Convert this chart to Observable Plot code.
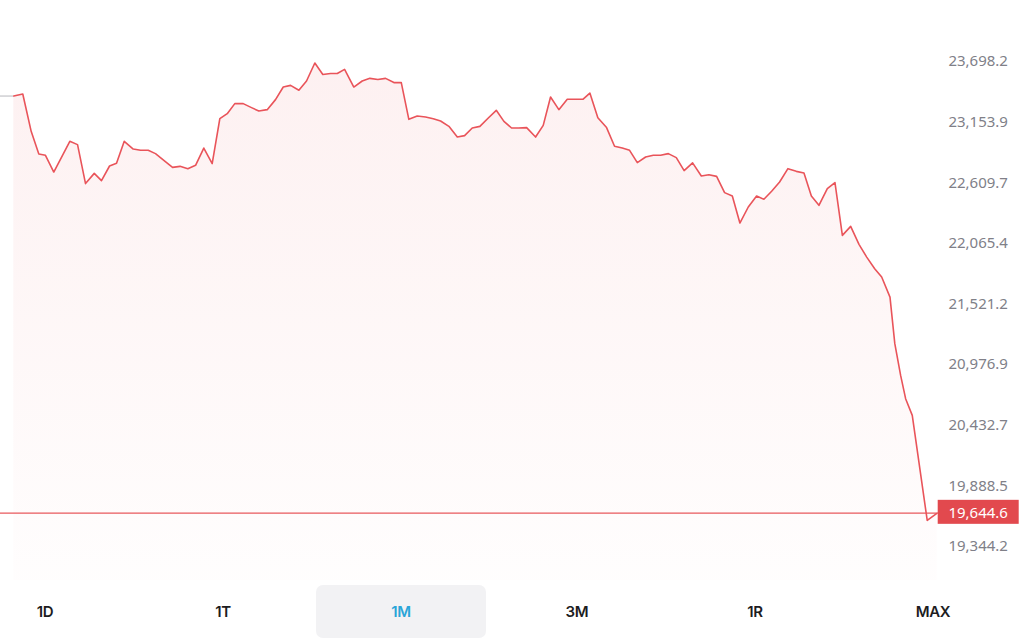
<!DOCTYPE html>
<html>
<head>
<meta charset="utf-8">
<script src="https://cdn.jsdelivr.net/npm/d3@7"></script>
<script src="https://cdn.jsdelivr.net/npm/@observablehq/plot@0.6"></script>
<style>
  html, body { margin: 0; padding: 0; background: #fff; }
  #wrap { position: relative; width: 1024px; height: 643px; overflow: hidden; }
  #chart svg { display: block; }
  .btn { position: absolute; top: 585px; width: 170px; height: 53px; border-radius: 7px;
         display: flex; align-items: center; justify-content: center;
         font-family: Inter, "Noto Sans", sans-serif; font-weight: 600; font-size: 15px;
         color: #1d1d1f; letter-spacing: -0.3px; }
  .btn.active { background: #f2f2f4; color: #2aa5d8; }
</style>
</head>
<body>
<div id="wrap">
  <div id="chart"></div>
  <div id="buttons"></div>
</div>
<script>
// time step (sampling index) and price
const t = [0, 1.08, 2.09, 3.01, 3.81, 4.81, 6.74, 7.67, 8.63, 9.68, 10.55, 11.52, 12.36, 13.29, 14.37, 15.25, 16.17, 17.05, 18.05, 19.1, 20.0, 20.94, 21.87, 22.86, 23.87, 24.79, 25.68, 26.59, 27.6, 28.6, 29.48, 30.49, 31.49, 32.42, 33.3, 34.3, 35.22, 36.22, 37.18, 38.11, 38.92, 39.8, 40.91, 41.92, 42.84, 43.8, 44.73, 45.73, 46.62, 47.53, 48.54, 49.54, 50.47, 51.35, 52.35, 53.36, 54.24, 55.16, 56.08, 57.09, 58.05, 58.97, 59.89, 60.73, 61.7, 62.78, 63.7, 64.58, 65.58, 66.59, 67.59, 68.47, 69.31, 70.27, 71.32, 72.28, 73.21, 74.09, 75.02, 76.02, 76.94, 77.82, 78.75, 79.71, 80.65, 81.67, 82.72, 83.63, 84.56, 85.52, 86.45, 87.36, 88.37, 89.37, 90.25, 91.18, 92.14, 93.14, 94.15, 95.07, 95.96, 96.87, 97.88, 98.8, 99.69, 100.69, 101.69, 102.62, 103.58, 104.42, 105.42, 106.0, 106.7, 107.3, 108.1, 109.9, 111.1];
const price = [23388, 23406, 23071, 22867, 22856, 22706, 22982, 22952, 22602, 22694, 22629, 22760, 22784, 22982, 22912, 22901, 22901, 22871, 22811, 22748, 22757, 22736, 22766, 22921, 22781, 23185, 23230, 23320, 23320, 23284, 23254, 23266, 23356, 23469, 23484, 23440, 23523, 23685, 23581, 23590, 23590, 23628, 23469, 23523, 23547, 23536, 23547, 23509, 23509, 23179, 23209, 23200, 23185, 23164, 23116, 23020, 23033, 23101, 23116, 23191, 23260, 23161, 23101, 23101, 23105, 23020, 23125, 23379, 23266, 23359, 23359, 23359, 23415, 23194, 23105, 22937, 22921, 22901, 22790, 22841, 22856, 22856, 22871, 22835, 22718, 22788, 22670, 22682, 22667, 22521, 22490, 22248, 22392, 22490, 22461, 22533, 22616, 22736, 22712, 22697, 22490, 22407, 22557, 22611, 22137, 22218, 22057, 21942, 21838, 21763, 21583, 21165, 20880, 20671, 20521, 19578, 19644.6];
const yTicks = [19344.2, 19888.5, 20432.7, 20976.9, 21521.2, 22065.4, 22609.7, 23153.9, 23698.2];
const lastPrice = 19644.6;
const ranges = ["1D", "1T", "1M", "3M", "1R", "MAX"];
const activeRange = "1M";

const data = t.map((d, i) => ({t: d, p: price[i]}));
const yBase = 19038.9;

const plot = Plot.plot({
  width: 1024,
  height: 580,
  marginTop: 61,
  marginBottom: 0,
  marginLeft: 0,
  marginRight: 87.3,
  x: {domain: [-1.6, 111.1], axis: null},
  y: {domain: [yBase, 23698.2]},
  style: {background: "transparent"},
  marks: [
    Plot.areaY(data, {x: "t", y1: yBase, y2: "p", fill: "url(#fadeFill)"}),
    Plot.ruleY([price[0]], {x1: -1.6, x2: 0, stroke: "#c8c8cc", strokeWidth: 1.3}),
    Plot.ruleY([lastPrice], {stroke: "#e8585c", strokeWidth: 1.3}),
    Plot.lineY(data, {x: "t", y: "p", stroke: "#e9545a", strokeWidth: 1.6}),
    Plot.axisY({anchor: "right", ticks: yTicks, tickSize: 0, tickPadding: 41, textAnchor: "middle",
      tickFormat: d3.format(",.1f"), fontSize: 15, fill: "#808088", label: null,
      fontFamily: "'Noto Sans', sans-serif"}),
    Plot.text([lastPrice], {x: t[t.length - 1], y: d => d, text: d => d3.format(",.1f")(d),
      dx: 41, textAnchor: "middle", fill: "white", fontSize: 15,
      fontFamily: "'Noto Sans', sans-serif", ariaDescription: "lastlabel"})
  ]
});

const svg = d3.select(plot);
const defs = svg.insert("defs", ":first-child");
const g = defs.append("linearGradient").attr("id", "fadeFill")
  .attr("x1", 0).attr("y1", 0).attr("x2", 0).attr("y2", 1);
g.append("stop").attr("offset", "0%").attr("stop-color", "#e9545a").attr("stop-opacity", 0.085);
g.append("stop").attr("offset", "100%").attr("stop-color", "#e9545a").attr("stop-opacity", 0.01);

document.getElementById("chart").appendChild(plot);

// background box behind last-price label (same transform as the text)
const lbl = svg.select('g[aria-description="lastlabel"]');
const gTransform = lbl.attr("transform");
lbl.selectAll("text").each(function() {
  const b = this.getBBox();
  const cx = b.x + b.width / 2, cy = b.y + b.height / 2;
  const r = lbl.insert("rect", "text").attr("x", cx - 40.5).attr("y", cy - 12)
    .attr("width", 81).attr("height", 24).attr("fill", "#e2494e");
  const tr = this.getAttribute("transform");
  if (tr) r.attr("transform", tr);
});

const centers = [45, 223, 400, 577, 755, 933];
const bw = document.getElementById("buttons");
ranges.forEach((r, i) => {
  const d = document.createElement("div");
  d.className = "btn" + (r === activeRange ? " active" : "");
  d.style.left = (centers[i] - 85 + (r === activeRange ? 1 : 0)) + "px";
  d.textContent = r;
  bw.appendChild(d);
});
</script>
</body>
</html>
